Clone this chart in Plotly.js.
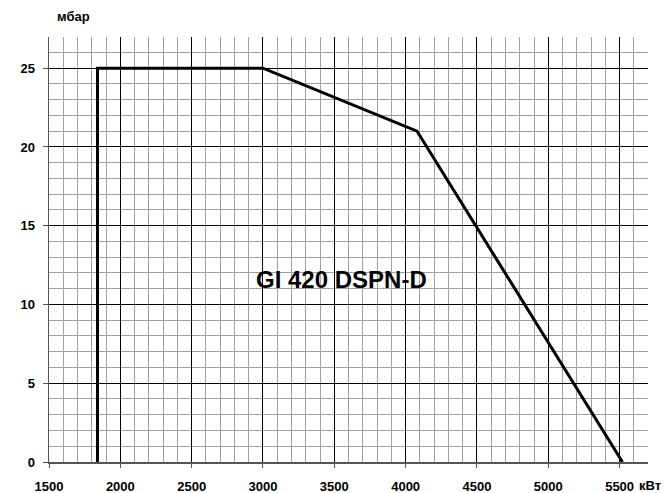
<!DOCTYPE html>
<html>
<head>
<meta charset="utf-8">
<script src="https://cdn.plot.ly/plotly-3.0.1.min.js"></script>
<style>html,body{margin:0;padding:0;background:#fff}#chart{width:665px;height:493px}</style>
</head>
<body>
<div id="chart"></div>
<script>
var powerKW = [1840, 1840, 3000, 4080, 5520];
var pressureMbar = [0, 25, 25, 21, 0];
var xTicks = [1500, 2000, 2500, 3000, 3500, 4000, 4500, 5000, 5500];
var yTicks = [0, 5, 10, 15, 20, 25];
var modelLabel = "GI 420 DSPN-D";
var xUnit = "кВт";
var yUnit = "мбар";

var fontFam = "Liberation Sans, Arial, sans-serif";
var W = 665, H = 493, ML = 49, MR = 17, MT = 37, MB = 31;
var PW = W - ML - MR, PH = H - MT - MB;

var trace = {
  x: powerKW, y: pressureMbar, type: "scatter", mode: "lines",
  line: {color: "#000", width: 3}, hoverinfo: "skip"
};

function bold(v) { return "<b>" + v + "</b>"; }

var layout = {
  width: W, height: H,
  margin: {l: ML, r: MR, t: MT, b: MB},
  paper_bgcolor: "#fff", plot_bgcolor: "#fff",
  showlegend: false,
  font: {family: fontFam, size: 13, color: "#000"},
  xaxis: {
    range: [1500, 5699], tickvals: xTicks, ticktext: xTicks.map(bold),
    showgrid: true, gridcolor: "#000", gridwidth: 1,
    showline: true, linecolor: "#555", linewidth: 1.5,
    ticks: "outside", ticklen: 4, tickcolor: "#555",
    ticklabelstandoff: 8,
    tickfont: {family: fontFam, size: 13, color: "#000"},
    zeroline: false, fixedrange: true,
    minor: {dtick: 100, tick0: 1500, showgrid: true, gridcolor: "#a0a0a0", gridwidth: 1, ticks: ""}
  },
  yaxis: {
    range: [0, 26.98], tickvals: yTicks, ticktext: yTicks.map(bold),
    showgrid: true, gridcolor: "#000", gridwidth: 1,
    showline: true, linecolor: "#555", linewidth: 1.5,
    ticks: "outside", ticklen: 5, tickcolor: "#555",
    ticklabelstandoff: 5,
    tickfont: {family: fontFam, size: 13, color: "#000"},
    zeroline: false, fixedrange: true,
    minor: {dtick: 1, tick0: 0, showgrid: true, gridcolor: "#a0a0a0", gridwidth: 1, ticks: ""}
  },
  annotations: [
    {x: 3548, y: 11.6, xref: "x", yref: "y", text: bold(modelLabel), showarrow: false,
     font: {family: fontFam, size: 24, color: "#000"}},
    {x: 7 / W, xanchor: "left", y: 1 + (MT - 17) / PH, yanchor: "middle",
     xref: "paper", yref: "paper", text: bold(yUnit), showarrow: false,
     font: {family: fontFam, size: 13, color: "#000"}},
    {x: (637 - ML) / PW, xanchor: "left", y: -(486 - (MT + PH)) / PH, yanchor: "middle",
     xref: "paper", yref: "paper", text: bold(xUnit), showarrow: false,
     font: {family: fontFam, size: 13, color: "#000"}}
  ]
};

Plotly.newPlot("chart", [trace], layout, {displayModeBar: false, staticPlot: true});
</script>
</body>
</html>
